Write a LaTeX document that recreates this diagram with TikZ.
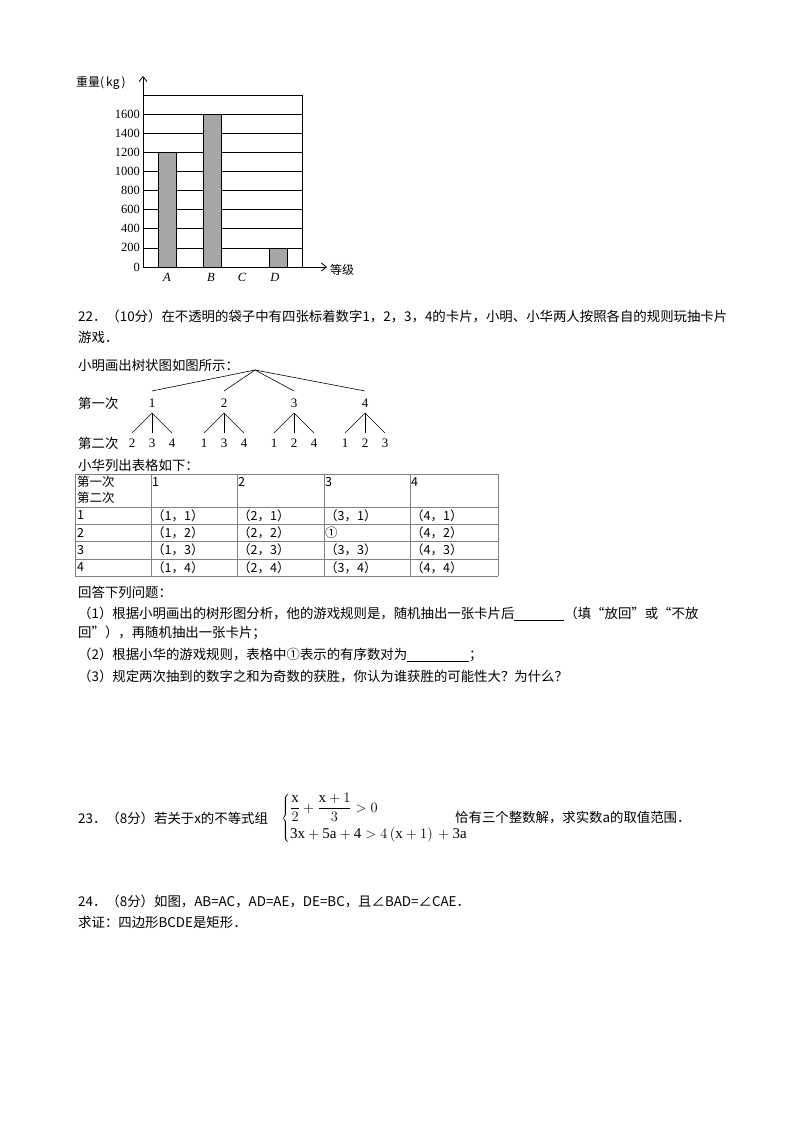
\documentclass[tikz,border=0pt]{standalone}
\usepackage{fontspec}
\usetikzlibrary{arrows.meta}
\setmainfont{Liberation Serif}
\newfontfamily\cjk{Noto Sans CJK SC}
\begin{document}
\begin{tikzpicture}[x=1pt,y=-1pt,
  txt/.style={anchor=west,inner sep=0pt,font=\cjk\fontsize{13.4}{14}\selectfont},
  num/.style={inner sep=0pt,font=\fontsize{13}{14}\selectfont},
  tick/.style={anchor=east,inner sep=0pt,font=\fontsize{12.5}{13}\selectfont},
  bar/.style={draw=black,fill=gray!70,line width=0.8pt},
  grid/.style={line width=0.8pt},
  br/.style={line width=0.6pt},
  cell/.style={anchor=west,inner sep=0pt,font=\cjk\fontsize{12.5}{13}\selectfont}]
\useasboundingbox (0,0) rectangle (800,1132);
% chart
\foreach \i in {1,...,9} \draw[grid] (143,{267-19.1*\i}) -- (302,{267-19.1*\i});
\draw[grid] (302,95) -- (302,267);
\foreach \v [count=\i from 0] in {0,200,400,600,800,1000,1200,1400,1600}
  \node[tick] (t\i) at (140,{267-19.1*\i}) {\v};
\draw[bar] (158,{267-19.1*6}) rectangle (176,267);
\draw[bar] (203,{267-19.1*8}) rectangle (221,267);
\draw[bar] (269,{267-19.1*1}) rectangle (287,267);
\coordinate (o) at (143,267);
\coordinate (ytop) at (143,76);
\coordinate (xend) at (327,267);
\draw[line width=0.8pt,-{Straight Barb[length=5pt,width=8pt]}] (o) -- (ytop);
\draw[line width=0.8pt,-{Straight Barb[length=5pt,width=8pt]}] (o) -- (xend);
\node[txt,font=\cjk\fontsize{12}{13}\selectfont] (ylab) at (76,83) {重量\textit{(\,kg\,)}};
\node[txt,font=\cjk\fontsize{12}{13}\selectfont] (xlab) at (330,270) {等级};
\foreach \l/\x in {A/167,B/211,C/242,D/275} \node[num,font=\itshape\fontsize{12.5}{13}\selectfont] (l\l) at (\x,277) {\l};
% problem 22
\node[txt] (p1) at (78,316) {22．（10分）在不透明的袋子中有四张标着数字1，2，3，4的卡片，小明、小华两人按照各自的规则玩抽卡片};
\node[txt] (p2) at (78,337) {游戏．};
\node[txt] (p3) at (78,365) {小明画出树状图如图所示：};
% tree
\coordinate (root) at (255,370);
\node[txt] (d1) at (78,403) {第一次};
\node[txt] (d2) at (78,443) {第二次};
\foreach \n/\x/\a/\b/\c in {1/152/2/3/4, 2/224/1/3/4, 3/294/1/2/4, 4/365/1/2/3}{
  \node[num] (f\n) at (\x,403) {\n};
  \draw[br] (root) -- (\x,391);
  \draw[br] (\x,413) -- (\x-20,433);
  \draw[br] (\x,413) -- (\x,433);
  \draw[br] (\x,413) -- (\x+20,433);
  \node[num] (s\n a) at (\x-20,443) {\a};
  \node[num] (s\n b) at (\x,443) {\b};
  \node[num] (s\n c) at (\x+20,443) {\c};
}
\node[txt] (p4) at (78,465) {小华列出表格如下：};
% table
\foreach \y in {474,507,524,541,559,576} \draw[gray,line width=0.6pt] (75,\y) -- (498,\y);
\foreach \x in {75,151,237,324,410,498} \draw[gray,line width=0.6pt] (\x,474) -- (\x,576);
\node[cell] (h1) at (77,482) {第一次};
\node[cell] (h2) at (77,498) {第二次};
\foreach \c/\x in {1/152,2/238,3/325,4/411} \node[cell] (c\c) at (\x,482) {\c};
\foreach \r/\y in {1/515.5,2/532.5,3/550,4/567.5}{
  \node[cell] (r\r) at (77,\y) {\r};
  \foreach \c/\x in {1/152,2/238,3/325,4/411}{
    \ifnum\c=3 \ifnum\r=2 \node[cell] (e\r\c) at (\x,\y) {①}; \else \node[cell] (e\r\c) at (\x,\y) {（\c，\r）}; \fi
    \else \node[cell] (e\r\c) at (\x,\y) {（\c，\r）}; \fi
  }
}
\node[txt] (q0) at (78,592) {回答下列问题：};
\node[txt] (q1) at (78,614) {（1）根据小明画出的树形图分析，他的游戏规则是，随机抽出一张卡片后\rule[-1.5pt]{50pt}{0.6pt}（填“放回”或“不放};
\node[txt] (q1b) at (78,633) {回”），再随机抽出一张卡片；};
\node[txt] (q2) at (78,655) {（2）根据小华的游戏规则，表格中①表示的有序数对为\rule[-1.5pt]{62pt}{0.6pt}；};
\node[txt] (q3) at (78,676) {（3）规定两次抽到的数字之和为奇数的获胜，你认为谁获胜的可能性大？为什么？};
% problem 23
\node[txt] (p23) at (78,818) {23．（8分）若关于x的不等式组};
\node[inner sep=0pt,anchor=west,font=\fontsize{15}{16}\selectfont] (sys) at (281,818)
  {$\left\{\begin{array}{@{}l@{}}\displaystyle\frac{\mathrm{x}}{2}+\frac{\mathrm{x}+1}{3}>0\\[10pt] \mathrm{3x+5a+4}>4\,(\mathrm{x}+1)\,+\mathrm{3a}\end{array}\right.$};
\node[txt] (p23b) at (455,818) {恰有三个整数解，求实数a的取值范围．};
% problem 24
\node[txt] (p24) at (78,901) {24．（8分）如图，AB=AC，AD=AE，DE=BC，且∠BAD=∠CAE．};
\node[txt] (p24b) at (78,922) {求证：四边形BCDE是矩形．};
\end{tikzpicture}
\end{document}
